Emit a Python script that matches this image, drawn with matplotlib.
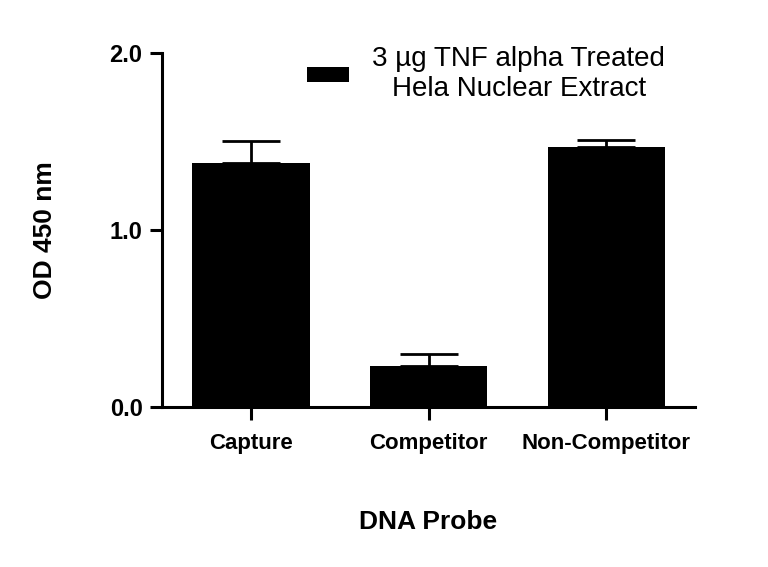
import matplotlib.pyplot as plt
import numpy as np

probes = ['Capture', 'Competitor', 'Non-Competitor']
od_mean = [1.38, 0.23, 1.47]
od_err = [0.12, 0.07, 0.04]
series_label = '3 µg TNF alpha Treated\nHela Nuclear Extract'

plt.rcParams['font.family'] = ['Liberation Sans', 'DejaVu Sans']

fig = plt.figure(figsize=(7.68, 5.67), dpi=100)
ax = fig.add_axes([0.211, 0.282, 0.694, 0.625])

x = np.arange(len(probes))
lower = [0] * len(od_err)
ax.bar(x, od_mean, width=0.66, color='black', label=series_label, zorder=2)
ax.errorbar(x, od_mean, yerr=[lower, od_err], fmt='none', ecolor='black',
            elinewidth=2, capsize=21, capthick=2, zorder=1)

ax.set_xlim(-0.5, 2.5)
ax.set_ylim(0, 2.0)
ax.set_yticks([0.0, 1.0, 2.0])
ax.set_yticklabels(['0.0', '1.0', '2.0'])
ax.set_xticks(x)
ax.set_xticklabels(probes)

for s in ['top', 'right']:
    ax.spines[s].set_visible(False)
for s in ['left', 'bottom']:
    ax.spines[s].set_linewidth(2.2)

ax.tick_params(axis='both', length=9, width=2.2, direction='out')
ax.tick_params(axis='y', labelsize=17, pad=5)
ax.tick_params(axis='x', labelsize=16, pad=10)
for lbl in ax.get_xticklabels() + ax.get_yticklabels():
    lbl.set_fontweight('bold')

ax.set_ylabel('OD 450 nm', fontsize=19, fontweight='bold', labelpad=38)
ax.set_xlabel('DNA Probe', fontsize=19, fontweight='bold', labelpad=40)

leg = ax.legend(loc='center', bbox_to_anchor=(0.608, 0.94), frameon=False,
                fontsize=20, handlelength=1.5, handleheight=0.45,
                handletextpad=0.86, borderpad=0, borderaxespad=0)
for t in leg.get_texts():
    t.set_multialignment('center')

fig.savefig('out.png', dpi=100)
